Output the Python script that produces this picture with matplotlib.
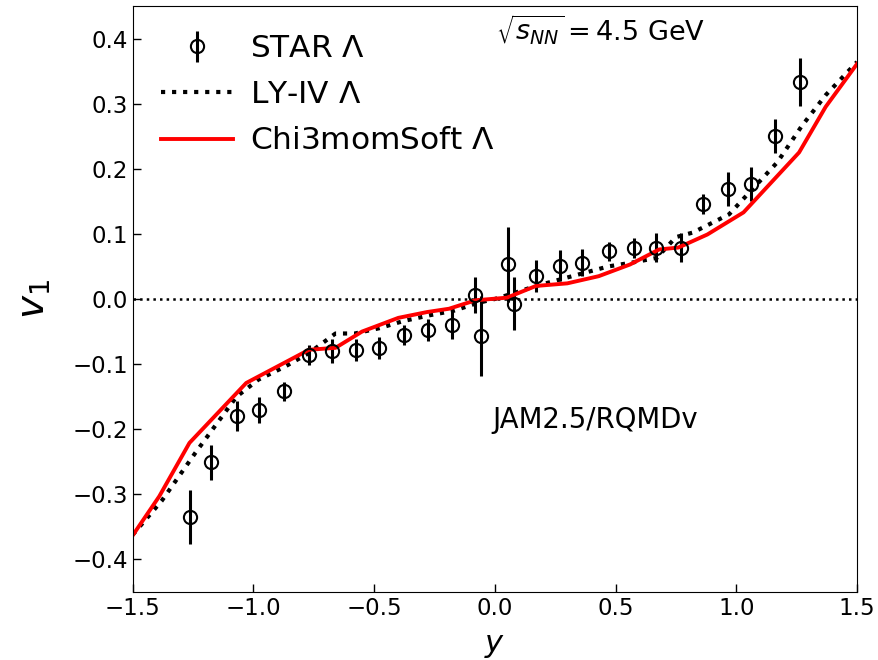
import numpy as np
import matplotlib
matplotlib.use("Agg")
import matplotlib.pyplot as plt

# STAR Lambda v1 data
star_y = [-1.263, -1.176, -1.07, -0.978, -0.875, -0.768, -0.676, -0.575, -0.481, -0.375,
          -0.278, -0.179, -0.081, -0.057, 0.053, 0.081, 0.171, 0.27, 0.361, 0.472,
          0.578, 0.668, 0.771, 0.864, 0.964, 1.061, 1.162, 1.264]
star_v1 = [-0.335, -0.251, -0.180, -0.170, -0.142, -0.086, -0.080, -0.078, -0.075, -0.055,
           -0.048, -0.040, 0.006, -0.057, 0.053, -0.007, 0.035, 0.051, 0.056, 0.073,
           0.078, 0.079, 0.079, 0.146, 0.169, 0.176, 0.250, 0.333]
star_err = [0.041, 0.027, 0.023, 0.020, 0.015, 0.015, 0.019, 0.017, 0.017, 0.015,
            0.017, 0.022, 0.028, 0.062, 0.058, 0.041, 0.025, 0.024, 0.020, 0.015,
            0.015, 0.022, 0.022, 0.015, 0.026, 0.026, 0.026, 0.037]

# LY-IV model
ly_y = [-1.5, -1.38, -1.24, -1.07, -0.98, -0.87, -0.77, -0.66, -0.58, -0.48, -0.38,
        -0.27, -0.17, -0.07, 0.0, 0.07, 0.17, 0.27, 0.37, 0.47, 0.57, 0.67, 0.75,
        0.82, 0.97, 1.07, 1.17, 1.27, 1.37, 1.5]
ly_v1 = [-0.362, -0.310, -0.236, -0.150, -0.124, -0.104, -0.083, -0.053, -0.053, -0.045,
         -0.034, -0.025, -0.018, -0.006, 0.0, 0.008, 0.020, 0.030, 0.040, 0.050,
         0.056, 0.063, 0.095, 0.102, 0.130, 0.170, 0.210, 0.265, 0.313, 0.364]

# Chi3momSoft model
chi_y = [-1.5, -1.39, -1.265, -1.03, -0.77, -0.66, -0.55, -0.40, -0.28, -0.19, -0.08,
         0.05, 0.17, 0.30, 0.43, 0.56, 0.68, 0.76, 0.88, 1.03, 1.26, 1.37, 1.5]
chi_v1 = [-0.363, -0.303, -0.221, -0.129, -0.078, -0.075, -0.050, -0.029, -0.020, -0.015,
          -0.002, 0.002, 0.020, 0.024, 0.035, 0.053, 0.076, 0.079, 0.099, 0.133,
          0.225, 0.295, 0.361]

fig = plt.figure(figsize=(8.79, 6.6), dpi=100)
ax = fig.add_axes([0.151, 0.103, 0.824, 0.888])

ax.axhline(0, color="black", ls=":", lw=1.8)
eb = ax.errorbar(star_y, star_v1, yerr=star_err, fmt="o", mfc="none", mec="black",
                 ecolor="black", ms=9.5, mew=1.5, elinewidth=2.2, capsize=0,
                 label=r"STAR $\Lambda$")
ly, = ax.plot(ly_y, ly_v1, color="black", ls=":", lw=3, label=r"LY-IV $\Lambda$")
chi, = ax.plot(chi_y, chi_v1, color="red", lw=2.8, label=r"Chi3momSoft $\Lambda$")

ax.set_xlim(-1.5, 1.5)
ax.set_ylim(-0.45, 0.45)
ax.set_xticks([-1.5, -1.0, -0.5, 0.0, 0.5, 1.0, 1.5])
ax.set_yticks([-0.4, -0.3, -0.2, -0.1, 0.0, 0.1, 0.2, 0.3, 0.4])
ax.tick_params(direction="in", labelsize=16.5, length=6, width=1)
ax.set_xlabel(r"$y$", fontsize=22, labelpad=8)
ax.set_ylabel(r"$v_1$", fontsize=28, labelpad=14)

ax.text(0.005, 0.415, r"$\sqrt{s_{NN}} = 4.5$ GeV", fontsize=19.5, va="center")
ax.text(-0.01, -0.186, "JAM2.5/RQMDv", fontsize=19.8, va="center")

ax.legend([eb, ly, chi], [r"STAR $\Lambda$", r"LY-IV $\Lambda$", r"Chi3momSoft $\Lambda$"],
          loc="upper left", frameon=False, fontsize=22.5, handlelength=2.3,
          handletextpad=0.55, borderaxespad=0.5, labelspacing=0.55)

fig.savefig("out.png", dpi=100)
